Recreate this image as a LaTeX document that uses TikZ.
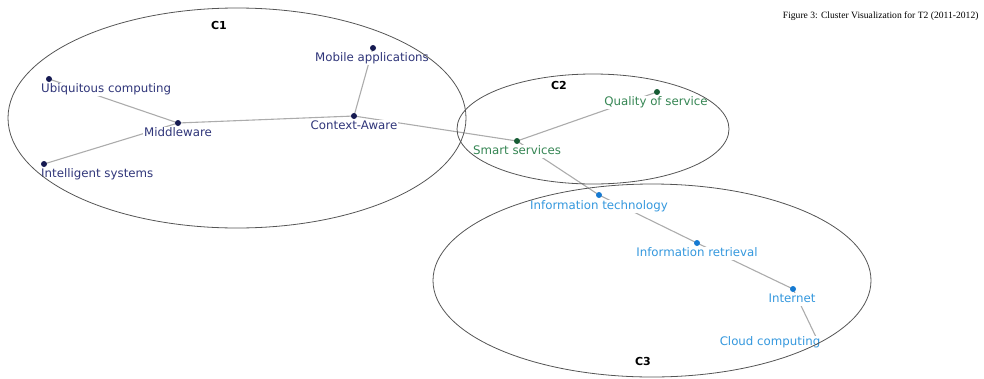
\documentclass[tikz,border=0pt]{standalone}
\usepackage{fontspec}
\setmainfont{DejaVu Sans}
\newfontfamily\titlefont{Liberation Serif}
\pgfdeclarelayer{bg}
\pgfdeclarelayer{fg}
\pgfsetlayers{bg,main,fg}
\definecolor{navydot}{RGB}{22,26,82}
\definecolor{navytext}{RGB}{48,54,122}
\definecolor{greendot}{RGB}{22,92,52}
\definecolor{greentext}{RGB}{54,134,84}
\definecolor{bluedot}{RGB}{22,122,210}
\definecolor{bluetext}{RGB}{52,152,222}
\definecolor{edgegray}{RGB}{172,172,172}
\definecolor{ringgray}{RGB}{85,85,85}
\begin{document}
\begin{tikzpicture}[x=1pt,y=-1pt,
  dot/.style={circle,fill=#1,inner sep=0pt,minimum size=6pt},
  term/.style={fill=white,inner sep=1pt,text=#1,text height=8.5pt,text depth=2.5pt,
    font=\fontsize{11.8}{14}\selectfont},
  link/.style={draw=edgegray,line width=1.1pt},
  ring/.style={draw=ringgray,line width=0.8pt},
  tag/.style={font=\fontsize{11}{13}\selectfont\bfseries,text=black}]
\useasboundingbox (0,0) rectangle (984,378);

% cluster C1
\node[term=navytext] (mob-l) at (372,58) {Mobile applications};
\node[term=navytext,anchor=west] (ubi-l) at (40,89) {Ubiquitous computing};
\node[term=navytext] (mw-l) at (178,133) {Middleware};
\node[term=navytext] (ca-l) at (354,126) {Context-Aware};
\node[term=navytext,anchor=west] (int-l) at (40,174) {Intelligent systems};
\node[dot=navydot] (mob) at (373,48) {};
\node[dot=navydot] (ubi) at (49,79) {};
\node[dot=navydot] (mw) at (178,123) {};
\node[dot=navydot] (ca) at (354,116) {};
\node[dot=navydot] (int) at (44,164) {};

% cluster C2
\node[term=greentext] (ss-l) at (517,151) {Smart services};
\node[term=greentext] (qos-l) at (656,102) {Quality of service};
\node[dot=greendot] (ss) at (517,141) {};
\node[dot=greendot] (qos) at (657,92) {};

% cluster C3
\node[term=bluetext] (it-l) at (599,206) {Information technology};
\node[term=bluetext] (ir-l) at (697,253) {Information retrieval};
\node[term=bluetext] (inet-l) at (792,299) {Internet};
\node[term=bluetext] (cc-l) at (770,342) {Cloud computing};
\node[dot=bluedot] (it) at (599,195) {};
\node[dot=bluedot] (ir) at (697,243) {};
\node[dot=bluedot] (inet) at (793,289) {};
\coordinate (cc) at (816,337);

% links between terms
\begin{pgfonlayer}{bg}
  \draw[link] (ubi.center) -- (mw.center);
  \draw[link] (int.center) -- (mw.center);
  \draw[link] (mw.center) -- (ca.center);
  \draw[link] (ca.center) -- (mob.center);
  \draw[link] (ca.center) -- (ss.center);
  \draw[link] (ss.center) -- (qos.center);
  \draw[link] (ss.center) -- (it.center);
  \draw[link] (it.center) -- (ir.center);
  \draw[link] (ir.center) -- (inet.center);
  \draw[link] (inet.center) -- (cc);
\end{pgfonlayer}

% cluster outlines
\begin{pgfonlayer}{fg}
  \draw[ring] (237,118) ellipse [x radius=229, y radius=110];
  \draw[ring] (593,129) ellipse [x radius=136, y radius=55];
  \draw[ring] (652,280.5) ellipse [x radius=219, y radius=96.5];
\end{pgfonlayer}

\node[tag] (c1) at (219,25) {C1};
\node[tag] (c2) at (559,85) {C2};
\node[tag] (c3) at (643,361) {C3};

\node[anchor=east,font=\titlefont\fontsize{9.6}{11}\selectfont] (title) at (982,16)
  {Figure 3: Cluster Visualization for T2 (2011-2012)};
\end{tikzpicture}
\end{document}
